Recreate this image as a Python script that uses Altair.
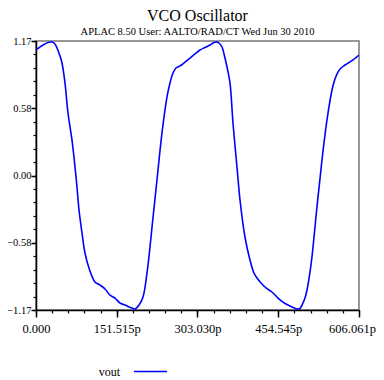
import altair as alt
import pandas as pd

# time in ps, voltage in V
t_ps = [0, 13.1, 22.5, 30.0, 35.6, 39.4, 45.0, 48.8, 54.4, 60.0, 67.5, 73.2, 76.9, 80.7,
        86.3, 91.9, 99.4, 110.7, 120.1, 129.5, 138.8, 148.2, 157.6, 167.0, 180.1, 185.8,
        193.3, 200.8, 208.3, 213.9, 217.7, 227.0, 236.4, 245.8, 251.4, 257.1, 262.7, 270.2,
        279.6, 289.0, 298.3, 307.7, 317.1, 326.5, 334.0, 339.6, 345.2, 349.0, 354.6, 358.4,
        364.0, 369.6, 377.1, 382.8, 392.1, 401.5, 409.0, 414.7, 422.2, 429.7, 437.2, 444.7,
        454.1, 463.4, 472.8, 480.3, 489.7, 495.3, 499.1, 504.7, 508.5, 514.1, 517.8, 527.2,
        536.6, 546.0, 555.4, 561.0, 566.6, 572.3, 579.8, 587.3, 594.8, 600.4, 606.061]
vout = [1.092, 1.135, 1.157, 1.161, 1.144, 1.109, 1.040, 0.979, 0.805, 0.544, 0.309, 0.074,
        -0.100, -0.300, -0.500, -0.674, -0.805, -0.926, -0.953, -0.987, -1.040, -1.066,
        -1.109, -1.127, -1.153, -1.161, -1.127, -1.057, -0.848, -0.622, -0.448, -0.039,
        0.370, 0.683, 0.805, 0.892, 0.935, 0.953, 0.987, 1.022, 1.057, 1.092, 1.113, 1.135,
        1.157, 1.161, 1.144, 1.118, 1.022, 0.944, 0.805, 0.457, 0.074, -0.213, -0.535,
        -0.735, -0.848, -0.892, -0.935, -0.970, -0.996, -1.022, -1.066, -1.101, -1.127,
        -1.144, -1.161, -1.157, -1.127, -1.066, -0.996, -0.840, -0.709, -0.274, 0.135,
        0.483, 0.744, 0.839, 0.900, 0.935, 0.961, 0.983, 1.005, 1.026, 1.048]

x_major = [0, 151.515, 303.030, 454.545, 606.061]
x_minor = [round(i * 30.303, 3) for i in range(21)]
y_major = [-1.17, -0.585, 0.0, 0.585, 1.17]
y_minor = [round(-1.17 + i * 0.117, 3) for i in range(21)]

df = pd.DataFrame({"t": t_ps, "v": vout, "series": "vout"})

FONT = "Liberation Serif"
xs = alt.Scale(domain=[0, 606.061], nice=False, zero=False)
ys = alt.Scale(domain=[-1.17, 1.17], nice=False, zero=False)

line = alt.Chart(df).mark_line(strokeWidth=1.6, interpolate="catmull-rom", clip=True).encode(
    x=alt.X("t:Q", scale=xs, axis=alt.Axis(
        orient="bottom", values=x_major, title=None, grid=False, tickSize=7,
        tickColor="black", domainColor="black", domainWidth=1.5, tickWidth=1.5,
        labelExpr="datum.value == 0 ? '0.000' : format(datum.value, '.3f') + 'p'",
        labelFont=FONT, labelFontSize=12.5, labelColor="black", labelPadding=5,
        labelFlush=False,
        labelOffset={"condition": {"test": "datum.value > 600", "value": -7}, "value": 0})),
    y=alt.Y("v:Q", scale=ys, axis=alt.Axis(
        orient="left", values=y_major, title=None, grid=False, tickSize=5,
        tickColor="black", domainColor="black", domainWidth=1.5, tickWidth=1.5,
        format=".2f", labelFont=FONT, labelFontSize=10.5, labelColor="black",
        labelPadding=0, labelFlush=False)),
    color=alt.Color("series:N", scale=alt.Scale(range=["#0000ff"]), legend=alt.Legend(
        title=None, orient="none", legendX=97, legendY=313, symbolType="stroke",
        symbolStrokeWidth=1.6, symbolSize=1100, labelFont=FONT, labelFontSize=12,
        labelColor="black", labelAlign="right", labelOffset={"expr": "-48"})),
)

minor = alt.Chart(pd.DataFrame({"t": x_minor, "v": y_minor})).mark_point(opacity=0).encode(
    x=alt.X("t:Q", scale=xs, axis=alt.Axis(
        orient="bottom", values=x_minor, labels=False, title=None, grid=False,
        tickSize=3, tickColor="black", tickWidth=1.2, domain=False)),
    y=alt.Y("v:Q", scale=ys, axis=alt.Axis(
        orient="left", values=y_minor, labels=False, title=None, grid=False,
        tickSize=3, tickColor="black", tickWidth=1.2, domain=False)),
)

chart = alt.layer(minor, line).resolve_axis(x="independent", y="independent").properties(
    width=323, height=269,
    autosize=alt.AutoSizeParams(type="none"),
    padding={"left": 28, "top": 33, "right": 17, "bottom": 70},
    title=alt.TitleParams(
        text="VCO Oscillator",
        subtitle="APLAC 8.50 User: AALTO/RAD/CT Wed Jun 30 2010",
        font=FONT, fontSize=16, fontWeight="normal", color="black",
        subtitleFont=FONT, subtitleFontSize=10.5, subtitleColor="black",
        anchor="middle", offset=-1, subtitlePadding=3),
).configure_view(stroke="#777777", strokeWidth=1.5)

chart.save("out.html", embed_options={"renderer": "svg", "actions": False})
